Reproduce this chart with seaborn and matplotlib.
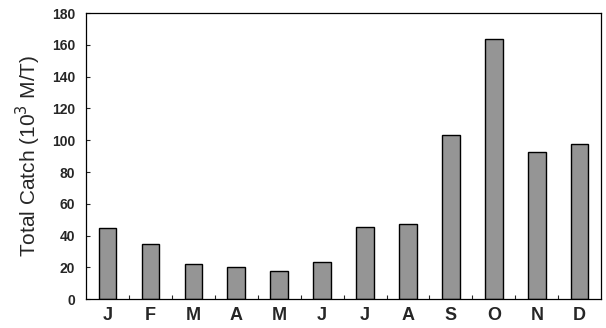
import pandas as pd
import matplotlib.pyplot as plt
import seaborn as sns

# Dados
meses = ['Jan', 'Feb', 'Mar', 'Apr', 'May', 'Jun', 'Jul', 'Aug', 'Sep', 'Oct', 'Nov', 'Dec']
letras = ['J', 'F', 'M', 'A', 'M', 'J', 'J', 'A', 'S', 'O', 'N', 'D']
captura = [45, 35, 22, 20.5, 17.5, 23.5, 45.5, 47.5, 103, 163.5, 92.5, 97.5]

dados = pd.DataFrame({'Mes': meses, 'Captura': captura})

sns.set_style('ticks')
plt.rcParams['font.family'] = ['Liberation Sans', 'DejaVu Sans']

fig = plt.figure(figsize=(6.06, 3.28), dpi=100)
ax = fig.add_axes([0.142, 0.088, 0.85, 0.872])

sns.barplot(data=dados, x='Mes', y='Captura', order=meses, color='#959595',
            edgecolor='black', linewidth=1.0, width=0.41, saturation=1, ax=ax)

ax.set_ylim(0, 180)
ax.set_xlim(-0.5, 11.5)
ax.set_yticks(range(0, 181, 20))
ax.set_xticks(range(12))
ax.set_xticklabels(letras, fontsize=13, fontweight='bold')
ax.set_xticks([i + 0.5 for i in range(11)], minor=True)
ax.tick_params(axis='x', which='major', length=0, pad=6)
ax.tick_params(axis='x', which='minor', length=3, direction='in', width=0.8)
ax.tick_params(axis='y', length=3, direction='in', width=0.8, labelsize=10, pad=8)
for lab in ax.get_yticklabels():
    lab.set_fontweight('bold')

ax.set_xlabel('')
ax.set_ylabel('Total Catch (10$^3$ M/T)', fontsize=15, labelpad=6)

for lado in ['top', 'right', 'left', 'bottom']:
    ax.spines[lado].set_visible(True)
    ax.spines[lado].set_linewidth(0.9)
    ax.spines[lado].set_color('black')

plt.savefig('out.png', dpi=100)
